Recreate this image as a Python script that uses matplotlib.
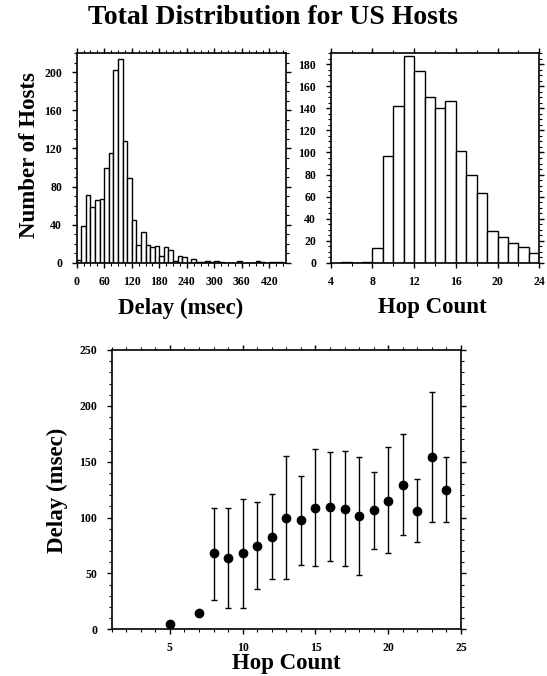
import matplotlib
matplotlib.use("Agg")
import matplotlib.pyplot as plt
from matplotlib.ticker import MultipleLocator
import numpy as np

plt.rcParams['font.family'] = ['Liberation Serif', 'DejaVu Serif']
plt.rcParams['font.weight'] = 'bold'

# delay histogram, 10 ms bins starting at 0
delay_bins = np.arange(0, 450, 10)
delay_counts = [3, 39, 71, 59, 66, 67, 100, 115, 202, 214,
                128, 89, 45, 19, 32, 19, 17, 18, 7, 16,
                13, 2, 7, 6, 0, 4, 1, 1, 2, 1,
                2, 1, 0, 0, 0, 2, 0, 0, 0, 2,
                1, 0, 1, 1, 1]

# hop count histogram
hop_bins = [5, 6, 7, 8, 9, 10, 11, 12, 13, 14, 15, 16, 17, 18, 19, 20, 21, 22, 23]
hop_counts = [1, 0, 1, 13, 97, 142, 188, 174, 150, 140, 147, 101, 80, 63, 29, 23, 18, 14, 9]

# delay vs hop count (mean with spread)
hops = [5, 7, 8, 9, 10, 11, 12, 13, 14, 15, 16, 17, 18, 19, 20, 21, 22, 23, 24]
mean_delay = [5, 15, 68, 63.5, 68, 75, 83, 100, 98, 109, 109.5, 107.5, 101.5, 107, 115, 129.5, 106, 154.5, 125]
delay_lo = [5, 15, 26, 19, 19, 36, 45, 45, 58, 57, 61, 57, 49, 72, 68, 84, 78, 96, 96]
delay_hi = [5, 15, 109, 108.5, 117, 114, 121, 155.5, 137.5, 161, 158.5, 159.5, 154, 141, 163, 175, 134.5, 212, 154]

W, H = 547, 676
fig = plt.figure(figsize=(W / 100, H / 100), dpi=100)

def px(l, r, t, b):
    return [l / W, 1 - b / H, (r - l) / W, (b - t) / H]

def label(x, y, s, rot=0):
    fig.text(x / W, 1 - y / H, s, ha='center', va='center', rotation=rot,
             fontsize=16.5, fontweight='bold')

ax1 = fig.add_axes(px(76.7, 286, 53.3, 262.7))
ax2 = fig.add_axes(px(330.7, 539.3, 53.3, 262.7))
ax3 = fig.add_axes(px(111.7, 461, 350, 629.3))

def style(ax):
    for s in ax.spines.values():
        s.set_linewidth(1.2)
    ax.tick_params(which='both', direction='out', top=True, right=True,
                   labeltop=False, labelright=False, labelsize=8.5)
    ax.tick_params(which='major', length=3.5, width=1)
    ax.tick_params(which='minor', length=2, width=0.8)
    ax.tick_params(axis='x', pad=6)
    ax.tick_params(axis='y', pad=7)
    for lab in ax.get_xticklabels() + ax.get_yticklabels():
        lab.set_fontweight('bold')

ax1.bar(delay_bins, delay_counts, width=10, align='edge',
        color='white', edgecolor='black', linewidth=1)
ax1.set_xlim(0, 456)
ax1.set_ylim(0, 220)
ax1.xaxis.set_major_locator(MultipleLocator(60))
ax1.xaxis.set_minor_locator(MultipleLocator(15))
ax1.yaxis.set_major_locator(MultipleLocator(40))
ax1.yaxis.set_minor_locator(MultipleLocator(10))
style(ax1)

ax2.bar(hop_bins, hop_counts, width=1, align='edge',
        color='white', edgecolor='black', linewidth=1)
ax2.set_xlim(4, 24)
ax2.set_ylim(0, 190)
ax2.xaxis.set_major_locator(MultipleLocator(4))
ax2.xaxis.set_minor_locator(MultipleLocator(2))
ax2.yaxis.set_major_locator(MultipleLocator(20))
ax2.yaxis.set_minor_locator(MultipleLocator(5))
style(ax2)

m = np.array(mean_delay)
err = [m - np.array(delay_lo), np.array(delay_hi) - m]
ax3.errorbar(hops, mean_delay, yerr=err, fmt='o', color='black',
             markersize=6, ecolor='black', elinewidth=1, capsize=2, capthick=1)
ax3.set_xlim(1, 25)
ax3.set_ylim(0, 250)
ax3.xaxis.set_major_locator(MultipleLocator(5))
ax3.xaxis.set_minor_locator(MultipleLocator(1))
ax3.yaxis.set_major_locator(MultipleLocator(50))
ax3.yaxis.set_minor_locator(MultipleLocator(10))
style(ax3)

label(30, 155, "Number of Hosts", rot=90)
label(181, 308, "Delay (msec)")
label(432, 308, "Hop Count")
label(286, 664, "Hop Count")
label(57, 490, "Delay (msec)", rot=90)

fig.text(273 / W, 1 - 18 / H, "Total Distribution for US Hosts",
         ha='center', va='center', fontsize=20, fontweight='bold')

fig.savefig("out.png", dpi=100)
